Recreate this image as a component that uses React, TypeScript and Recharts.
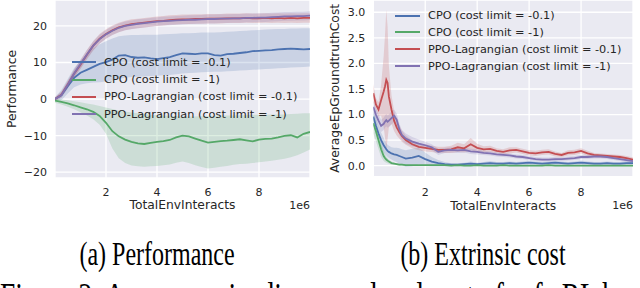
import {
  Area,
  CartesianGrid,
  ComposedChart,
  Label,
  Legend,
  Line,
  XAxis,
  YAxis,
} from "recharts";

// x in units of 1e6 env interactions
const PERF_X = [
  0, 0.25, 0.5, 0.75, 1, 1.25, 1.5, 1.75, 2, 2.25, 2.5, 2.75, 3, 3.25, 3.5, 3.75, 4, 4.25, 4.5, 4.75, 5,
  5.25, 5.5, 5.75, 6, 6.25, 6.5, 6.75, 7, 7.25, 7.5, 7.75, 8, 8.25, 8.5, 8.75, 9, 9.25, 9.5, 9.75, 10,
];

const PERF_CPO_01 = [
  0, 1.0, 3.5, 5.8, 7.2, 8.0, 8.8, 9.6, 10.1, 10.8, 11.9, 12.0, 11.5, 11.3, 11.4, 11.1, 10.9, 11.2, 11.5, 12.0, 12.5,
  12.4, 12.3, 12.5, 12.5, 12.0, 11.9, 12.3, 12.4, 12.6, 12.8, 13.1, 13.2, 13.3, 13.4, 13.6, 13.7, 13.8, 13.7, 13.6, 13.7,
];
const PERF_CPO_01_HI = [
  0.5, 2.5, 5.5, 8.5, 10.5, 12.3, 13.8, 15.0, 15.8, 16.6, 17.2, 17.4, 17.5, 17.5, 17.6, 17.6, 17.6, 17.7, 17.8, 17.9, 18.0,
  18.0, 18.1, 18.2, 18.2, 18.2, 18.3, 18.4, 18.5, 18.6, 18.7, 18.8, 18.9, 19.0, 19.1, 19.2, 19.2, 19.3, 19.3, 19.4, 19.4,
];
const PERF_CPO_01_LO = [
  -0.5, -0.3, 1.5, 3.2, 4.0, 4.3, 4.5, 4.6, 4.8, 5.1, 5.5, 5.8, 6.0, 6.1, 6.2, 6.3, 6.4, 6.5, 6.6, 6.8, 7.0,
  7.1, 7.2, 7.3, 7.4, 7.5, 7.5, 7.6, 7.7, 7.8, 7.9, 8.0, 8.1, 8.2, 8.3, 8.4, 8.5, 8.6, 8.7, 8.8, 8.9,
];

const PERF_CPO_1 = [
  -0.4, -0.8, -1.2, -1.7, -2.3, -2.8, -3.5, -4.6, -6.5, -8.8, -10.2, -11.1, -11.7, -12.1, -12.3, -12.0, -11.7, -11.5, -11.2, -10.5, -10.0,
  -10.2, -10.8, -11.4, -11.9, -11.7, -11.5, -11.4, -11.2, -11.0, -11.3, -11.6, -11.1, -10.9, -10.8, -10.5, -10.1, -9.9, -10.5, -9.5, -9.0,
];
const PERF_CPO_1_HI = [
  0.2, -0.1, -0.3, -0.6, -0.9, -1.2, -1.5, -1.9, -2.3, -2.7, -3.1, -3.4, -3.7, -3.9, -4.1, -4.3, -4.4, -4.5, -4.6, -4.7, -4.8,
  -4.8, -4.8, -4.7, -4.6, -4.6, -4.5, -4.5, -4.5, -4.4, -4.4, -4.3, -4.3, -4.3, -4.2, -4.2, -4.2, -4.1, -4.0, -3.9, -3.9,
];
const PERF_CPO_1_LO = [
  -1.0, -1.5, -2.1, -2.8, -3.6, -4.5, -5.5, -7.0, -9.5, -13.5, -16.2, -17.5, -18.2, -18.4, -18.5, -18.4, -18.3, -18.1, -17.9, -17.4, -17.1,
  -17.5, -18.1, -18.6, -19.0, -18.8, -18.5, -18.3, -18.0, -17.8, -17.7, -17.5, -17.3, -17.1, -16.9, -16.6, -16.3, -15.9, -15.4, -14.6, -13.8,
];

const PERF_PPO_01 = [
  0, 1.2, 4.0, 6.9, 9.4, 12.1, 14.6, 16.5, 17.8, 18.8, 19.6, 20.1, 20.5, 20.7, 20.9, 21.1, 21.3, 21.4, 21.6, 21.7, 21.8,
  21.8, 21.9, 21.9, 22.0, 22.0, 22.0, 22.1, 22.1, 22.1, 22.2, 22.1, 22.1, 22.2, 22.1, 22.2, 22.1, 22.2, 22.1, 22.2, 22.2,
];
const PERF_PPO_01_HI = [
  0.5, 2.0, 5.0, 8.0, 10.6, 13.4, 15.9, 17.8, 19.1, 20.1, 20.9, 21.4, 21.8, 22.0, 22.2, 22.4, 22.6, 22.7, 22.9, 23.0, 23.1,
  23.1, 23.2, 23.2, 23.3, 23.3, 23.3, 23.4, 23.4, 23.4, 23.5, 23.4, 23.4, 23.5, 23.4, 23.5, 23.4, 23.5, 23.4, 23.5, 23.5,
];
const PERF_PPO_01_LO = [
  -0.5, 0.4, 3.0, 5.8, 8.2, 10.8, 13.3, 15.2, 16.5, 17.5, 18.3, 18.8, 19.2, 19.4, 19.6, 19.8, 20.0, 20.1, 20.3, 20.4, 20.5,
  20.5, 20.6, 20.6, 20.7, 20.7, 20.7, 20.8, 20.8, 20.8, 20.9, 20.8, 20.8, 20.9, 20.8, 20.9, 20.8, 20.9, 20.8, 20.9, 20.9,
];

const PERF_PPO_1 = [
  0, 1.1, 3.9, 7.0, 9.6, 12.2, 14.6, 16.4, 17.7, 18.7, 19.5, 20.0, 20.3, 20.6, 20.8, 21.0, 21.2, 21.3, 21.4, 21.5, 21.6,
  21.7, 21.7, 21.8, 21.9, 21.9, 22.0, 22.0, 22.1, 22.1, 22.2, 22.2, 22.3, 22.3, 22.4, 22.5, 22.6, 22.6, 22.7, 22.7, 22.8,
];
const PERF_PPO_1_HI = [
  0.5, 1.9, 4.9, 8.1, 10.8, 13.4, 15.8, 17.6, 18.9, 19.9, 20.7, 21.2, 21.5, 21.8, 22.0, 22.2, 22.4, 22.5, 22.6, 22.7, 22.8,
  22.9, 22.9, 23.0, 23.1, 23.1, 23.2, 23.2, 23.3, 23.3, 23.4, 23.4, 23.5, 23.5, 23.6, 23.7, 23.8, 23.8, 23.9, 23.9, 24.0,
];
const PERF_PPO_1_LO = [
  -0.5, 0.3, 2.9, 5.9, 8.4, 11.0, 13.4, 15.2, 16.5, 17.5, 18.3, 18.8, 19.1, 19.4, 19.6, 19.8, 20.0, 20.1, 20.2, 20.3, 20.4,
  20.5, 20.5, 20.6, 20.7, 20.7, 20.8, 20.8, 20.9, 20.9, 21.0, 21.0, 21.1, 21.1, 21.2, 21.3, 21.4, 21.4, 21.5, 21.5, 21.6,
];

const COST_X = [
  0, 0.1, 0.2, 0.3, 0.4, 0.45, 0.5, 0.55, 0.6, 0.7, 0.8, 0.9, 1.0, 1.1,
  1.25, 1.5, 1.75, 2, 2.25, 2.5, 2.75, 3, 3.25, 3.5, 3.75, 4, 4.25, 4.5, 4.75, 5, 5.25, 5.5, 5.75, 6,
  6.25, 6.5, 6.75, 7, 7.25, 7.5, 7.75, 8, 8.25, 8.5, 8.75, 9, 9.25, 9.5, 9.75, 10,
];

const COST_CPO_01 = [
  0.96, 0.78, 0.63, 0.5, 0.4, 0.36, 0.32, 0.29, 0.27, 0.24, 0.22, 0.21, 0.19, 0.17,
  0.14, 0.16, 0.19, 0.13, 0.08, 0.05, 0.03, 0.02, 0.02, 0.03, 0.04, 0.03, 0.04, 0.05, 0.04, 0.04, 0.05, 0.04, 0.05, 0.06,
  0.05, 0.04, 0.05, 0.06, 0.05, 0.04, 0.05, 0.06, 0.05, 0.04, 0.04, 0.05, 0.04, 0.04, 0.05, 0.05,
];
const COST_CPO_01_SD = [
  0.17, 0.16, 0.15, 0.15, 0.14, 0.13, 0.12, 0.12, 0.12, 0.12, 0.13, 0.14, 0.15, 0.15,
  0.16, 0.17, 0.16, 0.13, 0.09, 0.06, 0.04, 0.03, 0.03, 0.03, 0.04, 0.03, 0.03, 0.04, 0.03, 0.03, 0.03, 0.03, 0.03, 0.04,
  0.03, 0.03, 0.03, 0.04, 0.03, 0.03, 0.03, 0.04, 0.03, 0.03, 0.03, 0.03, 0.03, 0.03, 0.03, 0.03,
];

const COST_CPO_1 = [
  0.83, 0.68, 0.5, 0.32, 0.19, 0.15, 0.12, 0.1, 0.08, 0.05, 0.04, 0.03, 0.02, 0.02,
  0.01, 0.01, 0.01, 0.01, 0.01, 0.01, 0.01, 0.0, 0.01, 0.0, 0.0, 0.01, 0.0, 0.0, 0.0, 0.01, 0.0, 0.0, 0.0, 0.0,
  0.0, 0.0, 0.01, 0.0, 0.0, 0.0, 0.0, 0.0, 0.0, 0.0, 0.0, 0.0, 0.0, 0.0, 0.0, 0.0,
];
const COST_CPO_1_SD = [
  0.2, 0.2, 0.18, 0.15, 0.1, 0.08, 0.06, 0.05, 0.04, 0.03, 0.02, 0.02, 0.02, 0.02,
  0.01, 0.01, 0.01, 0.01, 0.01, 0.01, 0.01, 0.01, 0.01, 0.01, 0.01, 0.01, 0.01, 0.01, 0.01, 0.01, 0.01, 0.01, 0.01, 0.01,
  0.01, 0.01, 0.01, 0.01, 0.01, 0.01, 0.01, 0.01, 0.01, 0.01, 0.01, 0.01, 0.01, 0.01, 0.01, 0.01,
];

const COST_PPO_01 = [
  1.42, 1.2, 1.1, 1.28, 1.45, 1.55, 1.68, 1.62, 1.35, 1.1, 0.88, 0.75, 0.66, 0.58,
  0.5, 0.42, 0.37, 0.35, 0.33, 0.31, 0.31, 0.32, 0.36, 0.34, 0.42, 0.35, 0.32, 0.33, 0.29, 0.27, 0.3, 0.31, 0.28, 0.25,
  0.24, 0.26, 0.27, 0.23, 0.21, 0.25, 0.26, 0.29, 0.24, 0.21, 0.2, 0.19, 0.18, 0.17, 0.15, 0.12,
];
const COST_PPO_01_SD = [
  0.18, 0.12, 0.14, 0.3, 0.7, 1.0, 1.37, 1.1, 0.6, 0.28, 0.2, 0.16, 0.13, 0.11,
  0.09, 0.08, 0.07, 0.07, 0.06, 0.06, 0.06, 0.07, 0.09, 0.08, 0.12, 0.08, 0.06, 0.06, 0.05, 0.05, 0.06, 0.05, 0.05, 0.05,
  0.05, 0.05, 0.05, 0.05, 0.04, 0.05, 0.05, 0.05, 0.05, 0.04, 0.04, 0.04, 0.04, 0.04, 0.04, 0.04,
];

const COST_PPO_1 = [
  1.15, 1.0, 0.88, 0.78, 0.82, 0.86, 0.89, 0.86, 0.88, 0.93, 0.98, 0.9, 0.72, 0.6,
  0.53, 0.47, 0.43, 0.4, 0.36, 0.27, 0.3, 0.31, 0.3, 0.31, 0.28, 0.27, 0.25, 0.24, 0.22, 0.21, 0.2, 0.18, 0.17, 0.15,
  0.13, 0.12, 0.12, 0.13, 0.13, 0.14, 0.15, 0.17, 0.17, 0.18, 0.18, 0.17, 0.15, 0.13, 0.11, 0.09,
];
const COST_PPO_1_SD = [
  0.12, 0.12, 0.12, 0.12, 0.12, 0.12, 0.12, 0.12, 0.12, 0.13, 0.12, 0.12, 0.11, 0.1,
  0.1, 0.09, 0.08, 0.07, 0.06, 0.06, 0.05, 0.05, 0.05, 0.05, 0.05, 0.05, 0.04, 0.04, 0.04, 0.04, 0.04, 0.04, 0.04, 0.04,
  0.04, 0.04, 0.04, 0.04, 0.04, 0.04, 0.04, 0.04, 0.04, 0.04, 0.04, 0.04, 0.04, 0.04, 0.04, 0.04,
];

const X_TICKS = [2, 4, 6, 8];
const PERF_TICKS = [-20, -10, 0, 10, 20];
const COST_TICKS = [0, 0.5, 1, 1.5, 2, 2.5, 3];

const SERIES = [
  { key: "cpo01", name: "CPO (cost limit = -0.1)", color: "#4C72B0" },
  { key: "cpo1", name: "CPO (cost limit = -1)", color: "#55A868" },
  { key: "ppo01", name: "PPO-Lagrangian (cost limit = -0.1)", color: "#C44E52" },
  { key: "ppo1", name: "PPO-Lagrangian (cost limit = -1)", color: "#8172B2" },
];

const FONT = "'DejaVu Sans', sans-serif";
const TEXT = "#262626";
const BG = "#EAEAF2";

const perfRows = PERF_X.map((x, i) => ({
  x,
  cpo01: PERF_CPO_01[i],
  cpo01Band: [PERF_CPO_01_LO[i], PERF_CPO_01_HI[i]],
  cpo1: PERF_CPO_1[i],
  cpo1Band: [PERF_CPO_1_LO[i], PERF_CPO_1_HI[i]],
  ppo01: PERF_PPO_01[i],
  ppo01Band: [PERF_PPO_01_LO[i], PERF_PPO_01_HI[i]],
  ppo1: PERF_PPO_1[i],
  ppo1Band: [PERF_PPO_1_LO[i], PERF_PPO_1_HI[i]],
}));

const band = (m: number, sd: number) => [m - sd, m + sd];

const costRows = COST_X.map((x, i) => ({
  x,
  cpo01: COST_CPO_01[i],
  cpo01Band: band(COST_CPO_01[i], COST_CPO_01_SD[i]),
  cpo1: COST_CPO_1[i],
  cpo1Band: band(COST_CPO_1[i], COST_CPO_1_SD[i]),
  ppo01: COST_PPO_01[i],
  ppo01Band: band(COST_PPO_01[i], COST_PPO_01_SD[i]),
  ppo1: COST_PPO_1[i],
  ppo1Band: band(COST_PPO_1[i], COST_PPO_1_SD[i]),
}));

const minus = (v: number) => (v < 0 ? `\u2212${Math.abs(v)}` : String(v));

function SeriesLegend({ rowHeight, lineWidth }: { rowHeight: number; lineWidth: number }) {
  return (
    <div style={{ fontFamily: FONT, fontSize: 11.3, color: TEXT, whiteSpace: "nowrap" }}>
      {SERIES.map((s) => (
        <div key={s.key} style={{ display: "flex", alignItems: "center", height: rowHeight }}>
          <span
            style={{
              display: "inline-block",
              width: lineWidth,
              height: 0,
              borderTop: `2px solid ${s.color}`,
              marginRight: 8,
            }}
          />
          <span>{s.name}</span>
        </div>
      ))}
    </div>
  );
}

function yTitle(text: string, cx: number) {
  return ({ viewBox }: any) => {
    const cy = viewBox.y + viewBox.height / 2;
    return (
      <text
        x={cx}
        y={cy}
        transform={`rotate(-90 ${cx} ${cy})`}
        textAnchor="middle"
        dominantBaseline="central"
        fontFamily={FONT}
        fontSize={12.3}
        fill={TEXT}
      >
        {text}
      </text>
    );
  };
}

function xTitle(dy: number) {
  return ({ viewBox }: any) => (
    <text
      x={viewBox.x + viewBox.width / 2}
      y={viewBox.y + dy}
      textAnchor="middle"
      dominantBaseline="central"
      fontFamily={FONT}
      fontSize={12.3}
      fill={TEXT}
    >
      TotalEnvInteracts
    </text>
  );
}

function scaleNote(dy: number) {
  return ({ viewBox }: any) => (
    <text
      x={viewBox.x + viewBox.width}
      y={viewBox.y + dy}
      textAnchor="end"
      dominantBaseline="central"
      fontFamily={FONT}
      fontSize={11}
      fill={TEXT}
    >
      1e6
    </text>
  );
}

function renderSeries() {
  return SERIES.flatMap((s) => [
    <Area
      key={`${s.key}-band`}
      dataKey={`${s.key}Band`}
      type="linear"
      stroke="none"
      fill={s.color}
      fillOpacity={0.2}
      dot={false}
      activeDot={false}
      legendType="none"
      isAnimationActive={false}
    />,
    <Line
      key={`${s.key}-line`}
      dataKey={s.key}
      name={s.name}
      type="linear"
      stroke={s.color}
      strokeWidth={1.8}
      dot={false}
      activeDot={false}
      isAnimationActive={false}
    />,
  ]);
}

const tickStyle = { fontFamily: FONT, fontSize: 11, fill: TEXT };

function PerformanceChart() {
  return (
    <ComposedChart
      width={320}
      height={220}
      data={perfRows}
      margin={{ top: 0, right: 10, bottom: 0, left: 0 }}
    >
      <CartesianGrid fill={BG} stroke="#ffffff" strokeWidth={1.3} />
      <XAxis
        dataKey="x"
        type="number"
        domain={[0, 10]}
        ticks={X_TICKS}
        allowDataOverflow
        axisLine={false}
        tickLine={false}
        tickMargin={4}
        height={42}
        tick={tickStyle}
      >
        <Label content={xTitle(27)} />
        <Label content={scaleNote(27)} />
      </XAxis>
      <YAxis
        type="number"
        domain={[-21.6, 27.1]}
        ticks={PERF_TICKS}
        allowDataOverflow
        axisLine={false}
        tickLine={false}
        width={55}
        tick={tickStyle}
        tickFormatter={minus}
      >
        <Label content={yTitle("Performance", 12)} />
      </YAxis>
      {renderSeries()}
      <Legend
        layout="vertical"
        align="center"
        verticalAlign="middle"
        wrapperStyle={{ left: 72, top: 53.5, width: 240 }}
        content={() => <SeriesLegend rowHeight={17.4} lineWidth={24} />}
      />
    </ComposedChart>
  );
}

function CostChart() {
  return (
    <ComposedChart
      width={322}
      height={220}
      data={costRows}
      margin={{ top: 0, right: 7, bottom: 0, left: 0 }}
    >
      <CartesianGrid fill={BG} stroke="#ffffff" strokeWidth={1.3} />
      <XAxis
        dataKey="x"
        type="number"
        domain={[0, 10]}
        ticks={X_TICKS}
        allowDataOverflow
        axisLine={false}
        tickLine={false}
        tickMargin={5}
        height={43.3}
        tick={tickStyle}
      >
        <Label content={xTitle(29.5)} />
        <Label content={scaleNote(28.5)} />
      </XAxis>
      <YAxis
        type="number"
        domain={[-0.215, 3.24]}
        ticks={COST_TICKS}
        allowDataOverflow
        axisLine={false}
        tickLine={false}
        width={55.3}
        tick={tickStyle}
        tickFormatter={(v: number) => v.toFixed(1)}
      >
        <Label content={yTitle("AverageEpGroundtruthCost", 17)} />
      </YAxis>
      {renderSeries()}
      <Legend
        layout="vertical"
        align="center"
        verticalAlign="middle"
        wrapperStyle={{ left: 77, top: 7.3, width: 240 }}
        content={() => <SeriesLegend rowHeight={16.8} lineWidth={25} />}
      />
    </ComposedChart>
  );
}

export default function App() {
  const serif = "'Liberation Serif', 'Times New Roman', serif";
  return (
    <div
      style={{
        position: "absolute",
        left: 0,
        top: 0,
        width: 640,
        height: 288,
        overflow: "hidden",
        background: "#ffffff",
      }}
    >
      <div style={{ position: "absolute", left: 0, top: 0 }}>
        <PerformanceChart />
      </div>
      <div style={{ position: "absolute", left: 318, top: 0 }}>
        <CostChart />
      </div>
      <svg
        width={640}
        height={288}
        style={{ position: "absolute", left: 0, top: 0, pointerEvents: "none" }}
      >
        <g fontFamily={serif} fill="#000000">
          <text fontSize={24} transform="translate(157 265) scale(1 1.4)" textAnchor="middle">
            (a) Performance
          </text>
          <text fontSize={24} transform="translate(483 265) scale(1 1.4)" textAnchor="middle">
            (b) Extrinsic cost
          </text>
          <text fontSize={27.4} transform="translate(0 309) scale(1 1.35)">
            Figure 2: Average episodic reward and cost of safe RL baselines
          </text>
        </g>
      </svg>
    </div>
  );
}
